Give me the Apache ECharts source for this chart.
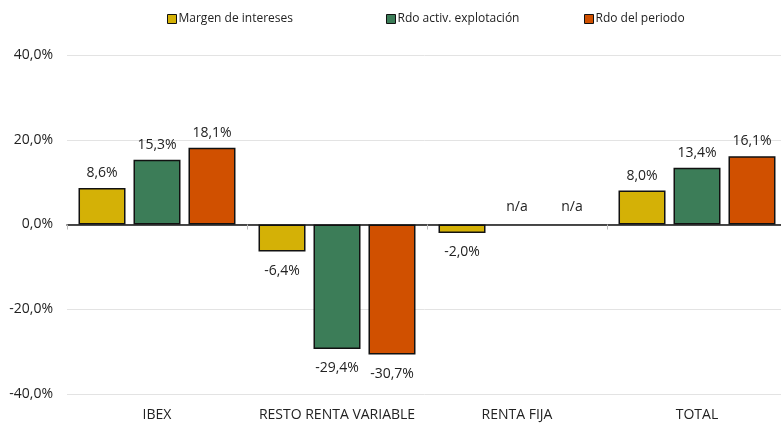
<!DOCTYPE html>
<html>
<head>
<meta charset="utf-8">
<script src="https://cdn.jsdelivr.net/npm/echarts@6/dist/echarts.min.js"></script>
<style>
  html, body { margin: 0; padding: 0; background: #fff; }
  #chart { width: 781px; height: 427px; }
</style>
</head>
<body>
<div id="chart"></div>
<script>
const categories = ['IBEX', 'RESTO RENTA VARIABLE', 'RENTA FIJA', 'TOTAL']
const seriesNames = ['Margen de intereses', 'Rdo activ. explotación', 'Rdo del periodo']
// null = n/a in the source
const margen = [8.6, -6.4, -2.0, 8.0]
const explotacion = [15.3, -29.4, null, 13.4]
const periodo = [18.1, -30.7, null, 16.1]
const colors = ['#d4b106', '#3c7d58', '#d05000']

const font = '"Open Sans", "Noto Sans", sans-serif'
const fmt = (v) => v.toFixed(1).replace('.', ',') + '%'

const makeSeries = (name, values, color) => ({
  name,
  type: 'bar',
  barWidth: 47,
  barGap: '17%',
  itemStyle: { color, borderColor: '#111', borderWidth: 1.5 },
  label: {
    show: true,
    fontFamily: font,
    fontSize: 14,
    color: '#222',
  },
  data: values.map((v) => {
    if (v === null) {
      return {
        value: 0,
        itemStyle: { borderWidth: 0, color: 'rgba(0,0,0,0)' },
        label: { position: 'top', formatter: 'n/a', distance: 10 },
      }
    }
    return {
      value: v,
      label: {
        position: v < 0 ? 'bottom' : 'top',
        distance: v < 0 ? 12 : 8,
        formatter: fmt(v),
      },
    }
  }),
})

const chart = echarts.init(document.getElementById('chart'))
const legendLefts = [162, 381, 579]
chart.setOption({
  animation: false,
  textStyle: { fontFamily: font },
  legend: seriesNames.map((n, i) => ({
    data: [n],
    left: legendLefts[i],
    top: 8,
    itemWidth: 9,
    itemHeight: 9,
    itemGap: 2,
    icon: 'rect',
    itemStyle: { borderColor: '#111', borderWidth: 1 },
    textStyle: { fontFamily: font, fontSize: 12, color: '#222', padding: [0, 0, 0, -3] },
  })),
  grid: {
    left: 67,
    right: -6,
    top: 55,
    bottom: 33,
    containLabel: false,
    outerBoundsMode: 'none',
  },
  xAxis: [
    {
      type: 'category',
      data: categories,
      position: 'bottom',
      axisLine: { onZero: false, show: false },
      axisTick: { show: false },
      axisLabel: { interval: 0, fontFamily: font, fontSize: 14, color: '#222', margin: 14 },
    },
    {
      type: 'category',
      data: categories,
      position: 'bottom',
      axisLine: { onZero: true, lineStyle: { color: '#111', width: 1.5 } },
      axisTick: { show: true, interval: 0, length: 5, lineStyle: { color: '#bbb' } },
      axisLabel: { show: false },
    },
  ],
  yAxis: {
    type: 'value',
    min: -40,
    max: 40,
    interval: 20,
    axisLine: { show: false },
    axisTick: { show: false },
    splitLine: { lineStyle: { color: '#e3e3e3' } },
    axisLabel: {
      fontFamily: font,
      fontSize: 14,
      color: '#222',
      margin: 14,
      formatter: (v) => fmt(v),
    },
  },
  series: [
    makeSeries(seriesNames[0], margen, colors[0]),
    makeSeries(seriesNames[1], explotacion, colors[1]),
    makeSeries(seriesNames[2], periodo, colors[2]),
  ],
})
</script>
</body>
</html>
